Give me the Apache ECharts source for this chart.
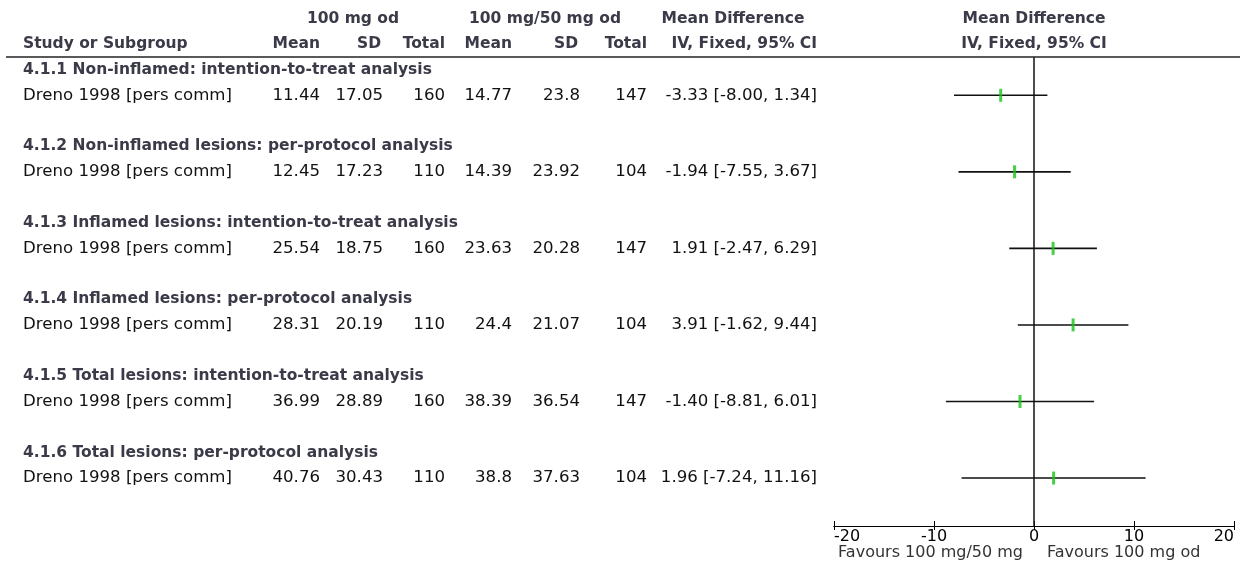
<!DOCTYPE html>
<html><head><meta charset="utf-8">
<script src="https://cdn.jsdelivr.net/npm/echarts@6/dist/echarts.min.js"></script>
<style>html,body{margin:0;padding:0;background:#fff}#c{width:1240px;height:579px}</style>
</head><body><div id="c"></div>
<script>
// ---- data ----
const subgroups = [
  "4.1.1 Non-inflamed: intention-to-treat analysis",
  "4.1.2 Non-inflamed lesions: per-protocol analysis",
  "4.1.3 Inflamed lesions: intention-to-treat analysis",
  "4.1.4 Inflamed lesions: per-protocol analysis",
  "4.1.5 Total lesions: intention-to-treat analysis",
  "4.1.6 Total lesions: per-protocol analysis"
];
const studies = ["Dreno 1998 [pers comm]","Dreno 1998 [pers comm]","Dreno 1998 [pers comm]","Dreno 1998 [pers comm]","Dreno 1998 [pers comm]","Dreno 1998 [pers comm]"];
const mean1 = [11.44, 12.45, 25.54, 28.31, 36.99, 40.76];
const sd1 = [17.05, 17.23, 18.75, 20.19, 28.89, 30.43];
const total1 = [160, 110, 160, 110, 160, 110];
const mean2 = [14.77, 14.39, 23.63, 24.4, 38.39, 38.8];
const sd2 = [23.8, 23.92, 20.28, 21.07, 36.54, 37.63];
const total2 = [147, 104, 147, 104, 147, 104];
const md = [-3.33, -1.94, 1.91, 3.91, -1.40, 1.96];
const ciLow = [-8.00, -7.55, -2.47, -1.62, -8.81, -7.24];
const ciHigh = [1.34, 3.67, 6.29, 9.44, 6.01, 11.16];
const xTicks = [-20, -10, 0, 10, 20];
const group1Label = "100 mg od";
const group2Label = "100 mg/50 mg od";
const favourLeft = "Favours 100 mg/50 mg";
const favourRight = "Favours 100 mg od";

// ---- layout helpers ----
const FAM = "'DejaVu Sans', sans-serif";
const BOLD = "bold 15.5px " + FAM;
const REG = "16.6px " + FAM;
const HEAD = "#3a3a48";
const TXT = "#111";
const headerY = i => 3 * i + 0.5;
const dataY = i => 3 * i + 1.5;

const chart = echarts.init(document.getElementById('c'), null, {renderer: 'canvas'});

function t(x, y, text, font, fill, align) {
  return {type: 'text', x: x, y: y, style: {text: text, font: font, fill: fill, align: align || 'left', verticalAlign: 'middle'}};
}

const tableRows = [];
subgroups.forEach((s, i) => {
  tableRows.push({value: [0, headerY(i)], kind: 'h', i: i});
  tableRows.push({value: [0, dataY(i)], kind: 'd', i: i});
});

const option = {
  animation: false,
  backgroundColor: '#fff',
  grid: {left: 834, right: 6, top: 57, bottom: 53},
  xAxis: [{
    type: 'value', min: xTicks[0], max: xTicks[xTicks.length - 1], interval: 10,
    position: 'bottom', offset: 0,
    axisLine: {show: true, onZero: false, lineStyle: {color: '#000', width: 1}},
    axisTick: {show: true, inside: true, length: 5, lineStyle: {color: '#000'}},
    axisLabel: {show: true, color: '#000', fontSize: 16, fontFamily: FAM, margin: 3,
      alignMinLabel: 'left', alignMaxLabel: 'right', formatter: v => String(v)},
    splitLine: {show: false}
  }, {
    type: 'value', min: xTicks[0], max: xTicks[xTicks.length - 1], interval: 10,
    position: 'bottom', offset: 0,
    axisLine: {show: true, onZero: false, lineStyle: {color: '#000', width: 1}},
    axisTick: {show: true, inside: false, length: 4, lineStyle: {color: '#000'}},
    axisLabel: {show: false},
    splitLine: {show: false}
  }],
  yAxis: {type: 'value', min: 0, max: 18.38, inverse: true, show: false},
  series: [
    {
      type: 'custom', name: 'ci', xAxisIndex: 0,
      data: md.map((m, i) => [ciLow[i], ciHigh[i], dataY(i)]),
      encode: {x: [0, 1], y: 2},
      renderItem: (params, api) => {
        const a = api.coord([api.value(0), api.value(2)]);
        const b = api.coord([api.value(1), api.value(2)]);
        return {type: 'line', shape: {x1: a[0], y1: a[1], x2: b[0], y2: b[1]},
          style: {stroke: '#111', lineWidth: 1.6}};
      },
      markLine: {
        silent: true, symbol: 'none', label: {show: false},
        lineStyle: {color: '#111', width: 1.5, type: 'solid'},
        data: [{xAxis: 0}]
      },
      z: 2
    },
    {
      type: 'scatter', name: 'md', xAxisIndex: 0,
      data: md.map((m, i) => [m, dataY(i)]),
      symbol: 'rect', symbolSize: [3, 13],
      itemStyle: {color: '#16c416'},
      z: 5
    },
    {
      type: 'custom', name: 'table', xAxisIndex: 0, clip: false,
      data: tableRows,
      renderItem: (params, api) => {
        const row = tableRows[params.dataIndex];
        const y = api.coord([0, api.value(1)])[1];
        const i = row.i;
        if (row.kind === 'h') {
          return {type: 'group', children: [t(23, y, subgroups[i], BOLD, HEAD, 'left')]};
        }
        const ci = md[i].toFixed(2) + " [" + ciLow[i].toFixed(2) + ", " + ciHigh[i].toFixed(2) + "]";
        return {type: 'group', children: [
          t(23, y, studies[i], REG, TXT, 'left'),
          t(320, y, String(mean1[i]), REG, TXT, 'right'),
          t(383, y, String(sd1[i]), REG, TXT, 'right'),
          t(445, y, String(total1[i]), REG, TXT, 'right'),
          t(512, y, String(mean2[i]), REG, TXT, 'right'),
          t(580, y, String(sd2[i]), REG, TXT, 'right'),
          t(647, y, String(total2[i]), REG, TXT, 'right'),
          t(817, y, ci, REG, TXT, 'right')
        ]};
      },
      z: 3
    }
  ],
  graphic: [
    {type: 'line', shape: {x1: 6, y1: 57, x2: 1240, y2: 57}, style: {stroke: '#222', lineWidth: 1.6}, z: 10},
    t(353, 19, group1Label, BOLD, HEAD, 'center'),
    t(545, 19, group2Label, BOLD, HEAD, 'center'),
    t(733, 19, "Mean Difference", BOLD, HEAD, 'center'),
    t(1034, 19, "Mean Difference", BOLD, HEAD, 'center'),
    t(23, 44, "Study or Subgroup", BOLD, HEAD, 'left'),
    t(320, 44, "Mean", BOLD, HEAD, 'right'),
    t(381, 44, "SD", BOLD, HEAD, 'right'),
    t(445, 44, "Total", BOLD, HEAD, 'right'),
    t(512, 44, "Mean", BOLD, HEAD, 'right'),
    t(578, 44, "SD", BOLD, HEAD, 'right'),
    t(647, 44, "Total", BOLD, HEAD, 'right'),
    t(817, 44, "IV, Fixed, 95% CI", BOLD, HEAD, 'right'),
    t(1034, 44, "IV, Fixed, 95% CI", BOLD, HEAD, 'center'),
    t(1023, 553, favourLeft, "16px " + FAM, '#333', 'right'),
    t(1047, 553, favourRight, "16px " + FAM, '#333', 'left')
  ]
};
chart.setOption(option);
</script>
</body></html>
